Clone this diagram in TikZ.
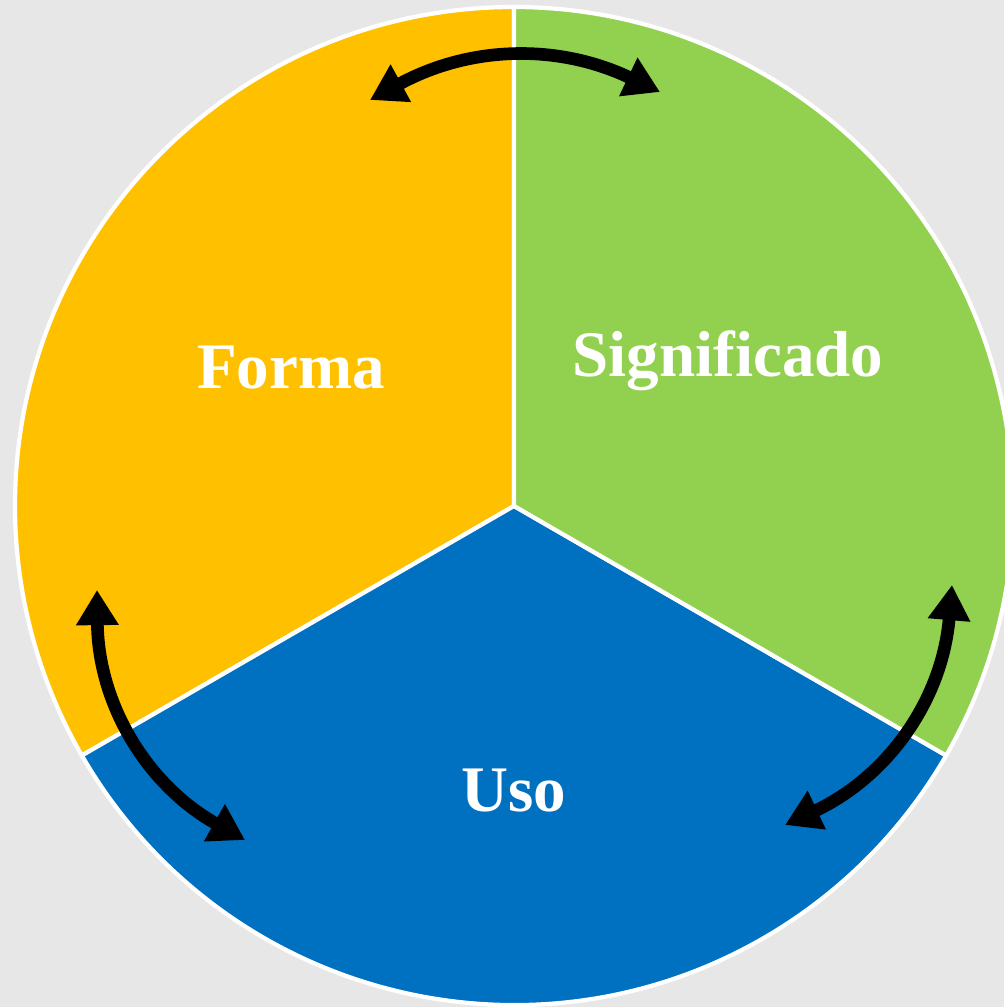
\documentclass[tikz,border=0pt]{standalone}
\usepackage{fontspec}
\setmainfont{Liberation Serif}
\usepackage{tikz}
\usetikzlibrary{arrows.meta}
\definecolor{fondo}{RGB}{231,231,231}
\definecolor{amarillo}{RGB}{255,192,0}
\definecolor{verde}{RGB}{146,208,80}
\definecolor{azul}{RGB}{0,112,192}
\tikzset{
	sector/.style={draw=white,line width=1.2pt},
	etiqueta/.style={text=white,font=\fontsize{18.5}{21}\selectfont\bfseries,anchor=base},
	flecha/.style={line width=3.6pt,{Triangle[length=10pt,width=11.5pt]}-{Triangle[length=10pt,width=11.5pt]}}
}

\begin{document}
\begin{tikzpicture}
	\fill[fondo] (0,0) rectangle (10.04,10.07);
	\useasboundingbox (0,0) rectangle (10.04,10.07);
	\coordinate (c) at (5.14,5.01);
	\fill[amarillo,sector] (c) -- ++(90:4.99) arc (90:210:4.99) -- cycle;
	\fill[azul,sector] (c) -- ++(210:4.99) arc (210:330:4.99) -- cycle;
	\fill[verde,sector] (c) -- ++(330:4.99) arc (330:450:4.99) -- cycle;
	\node[etiqueta] (forma) at (2.91,6.18) {Forma};
	\node[etiqueta] (signif) at (7.28,6.30) {Significado};
	\node[etiqueta] (uso) at (5.14,1.95) {Uso};
	\coordinate (t1) at (3.70,9.07);
	\coordinate (t2) at (6.60,9.15);
	\coordinate (l1) at (0.97,4.17);
	\coordinate (l2) at (2.45,1.67);
	\coordinate (r1) at (9.52,4.22);
	\coordinate (r2) at (7.85,1.82);
	\draw[flecha] (t1) to[bend left=27] (t2);
	\draw[flecha] (l1) to[bend right=30] (l2);
	\draw[flecha] (r1) to[bend left=30] (r2);
\end{tikzpicture}
\end{document}
